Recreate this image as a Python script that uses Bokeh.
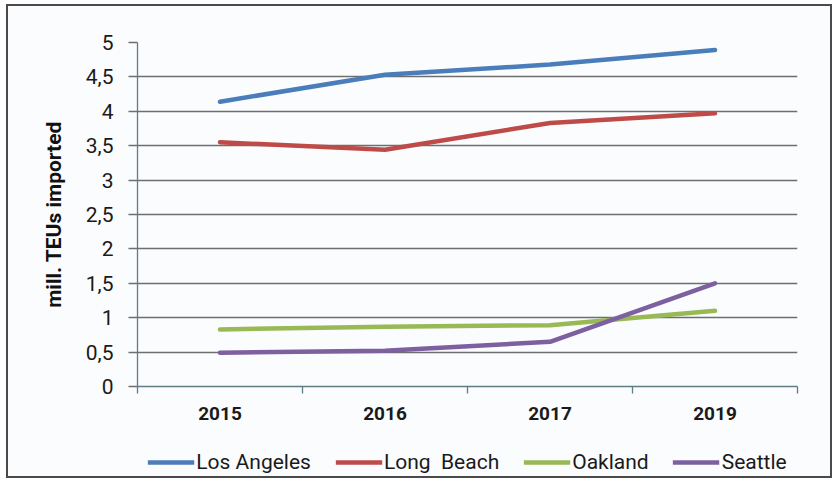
from bokeh.plotting import figure
from bokeh.layouts import column
from bokeh.models import Range1d, FixedTicker, CustomJSTickFormatter, Legend, LegendItem
from bokeh.embed import file_html
from bokeh.resources import INLINE

# ---- data ----
years = ["2015", "2016", "2017", "2019"]
los_angeles = [4.14, 4.53, 4.68, 4.89]
long_beach = [3.55, 3.44, 3.83, 3.97]
oakland = [0.83, 0.87, 0.89, 1.10]
seattle = [0.49, 0.52, 0.65, 1.50]
series_names = ["Los Angeles", "Long  Beach", "Oakland", "Seattle"]
y_ticks = [0, 0.5, 1, 1.5, 2, 2.5, 3, 3.5, 4, 4.5, 5]

colors = ["#4a7ebb", "#be4b48", "#98b954", "#7d60a0"]
FONT = "Roboto"
BG = "#fbfcfe"
GRID = "#6e6e6e"
AXIS = "#5c7c86"

x = list(range(len(years)))
boundaries = [i - 0.5 for i in range(len(years) + 1)]
series = [los_angeles, long_beach, oakland, seattle]

p = figure(
    frame_width=660, frame_height=344,
    x_range=Range1d(-0.5, len(years) - 0.5), y_range=Range1d(0, 5),
    output_backend="svg", toolbar_location=None,
    min_border_left=129, min_border_right=33, min_border_top=36, min_border_bottom=50,
    background_fill_color=BG, border_fill_color=BG,
)
p.outline_line_color = None

for vals, color in zip(series, colors):
    p.line(x, vals, line_width=4.5, line_color=color, line_cap="round")

# grid
p.xgrid.visible = False
p.ygrid.grid_line_color = GRID
p.ygrid.grid_line_width = 1.3
p.ygrid.ticker = FixedTicker(ticks=y_ticks)

# y axis
p.yaxis.ticker = FixedTicker(ticks=y_ticks)
p.yaxis.formatter = CustomJSTickFormatter(code="return tick.toString().replace('.', ',');")
p.yaxis.axis_line_color = AXIS
p.yaxis.axis_line_width = 1.3
p.yaxis.major_tick_line_color = GRID
p.yaxis.major_tick_line_width = 1.3
p.yaxis.major_tick_out = 9
p.yaxis.major_tick_in = 0
p.yaxis.minor_tick_line_color = None
p.yaxis.major_label_standoff = 15
p.yaxis.major_label_text_font = FONT
p.yaxis.major_label_text_font_size = "21px"
p.yaxis.major_label_text_color = "#1a1a1a"
p.yaxis.axis_label = "mill. TEUs imported"
p.yaxis.axis_label_text_font = FONT
p.yaxis.axis_label_text_font_style = "bold"
p.yaxis.axis_label_text_font_size = "21px"
p.yaxis.axis_label_text_color = "#111111"
p.yaxis.axis_label_standoff = 17

# x axis
p.xaxis.ticker = FixedTicker(ticks=x, minor_ticks=boundaries)
p.xaxis.formatter = CustomJSTickFormatter(args=dict(labels=years),
                                          code="return labels[Math.round(tick)] || '';")
p.xaxis.axis_line_color = AXIS
p.xaxis.axis_line_width = 1.3
p.xaxis.major_tick_out = 0
p.xaxis.major_tick_in = 0
p.xaxis.minor_tick_out = 7
p.xaxis.minor_tick_in = 0
p.xaxis.minor_tick_line_color = AXIS
p.xaxis.minor_tick_line_width = 1.3
p.xaxis.major_label_standoff = 13
p.xaxis.major_label_text_font = FONT
p.xaxis.major_label_text_font_style = "bold"
p.xaxis.major_label_text_font_size = "19px"
p.xaxis.major_label_text_color = "#1a1a1a"

# ---- legend strip (separate figure below the chart) ----
lf = figure(
    frame_width=660, frame_height=28,
    x_range=Range1d(-0.5, len(years) - 0.5), y_range=Range1d(100, 101),
    output_backend="svg", toolbar_location=None,
    x_axis_location=None, y_axis_location=None,
    min_border_left=129, min_border_right=33, min_border_top=12, min_border_bottom=0,
    background_fill_color=BG, border_fill_color=BG,
)
lf.outline_line_color = None
lf.grid.visible = False

items = []
for vals, color, name in zip(series, colors, series_names):
    r = lf.line(x, vals, line_width=4.5, line_color=color)
    items.append(LegendItem(label=name, renderers=[r]))

legend = Legend(
    items=items, orientation="horizontal", location="center",
    glyph_width=47, glyph_height=20, label_standoff=2, spacing=24,
    padding=0, margin=0, border_line_color=None, background_fill_alpha=0,
    label_text_font=FONT, label_text_font_size="21px", label_text_color="#1a1a1a",
)
lf.add_layout(legend, "center")

layout = column(p, lf, spacing=0,
                styles={"border": "2px solid #4a4a4a", "margin-left": "6px",
                        "margin-top": "4px", "background-color": BG})

open("out.html", "w").write(file_html(layout, INLINE))
